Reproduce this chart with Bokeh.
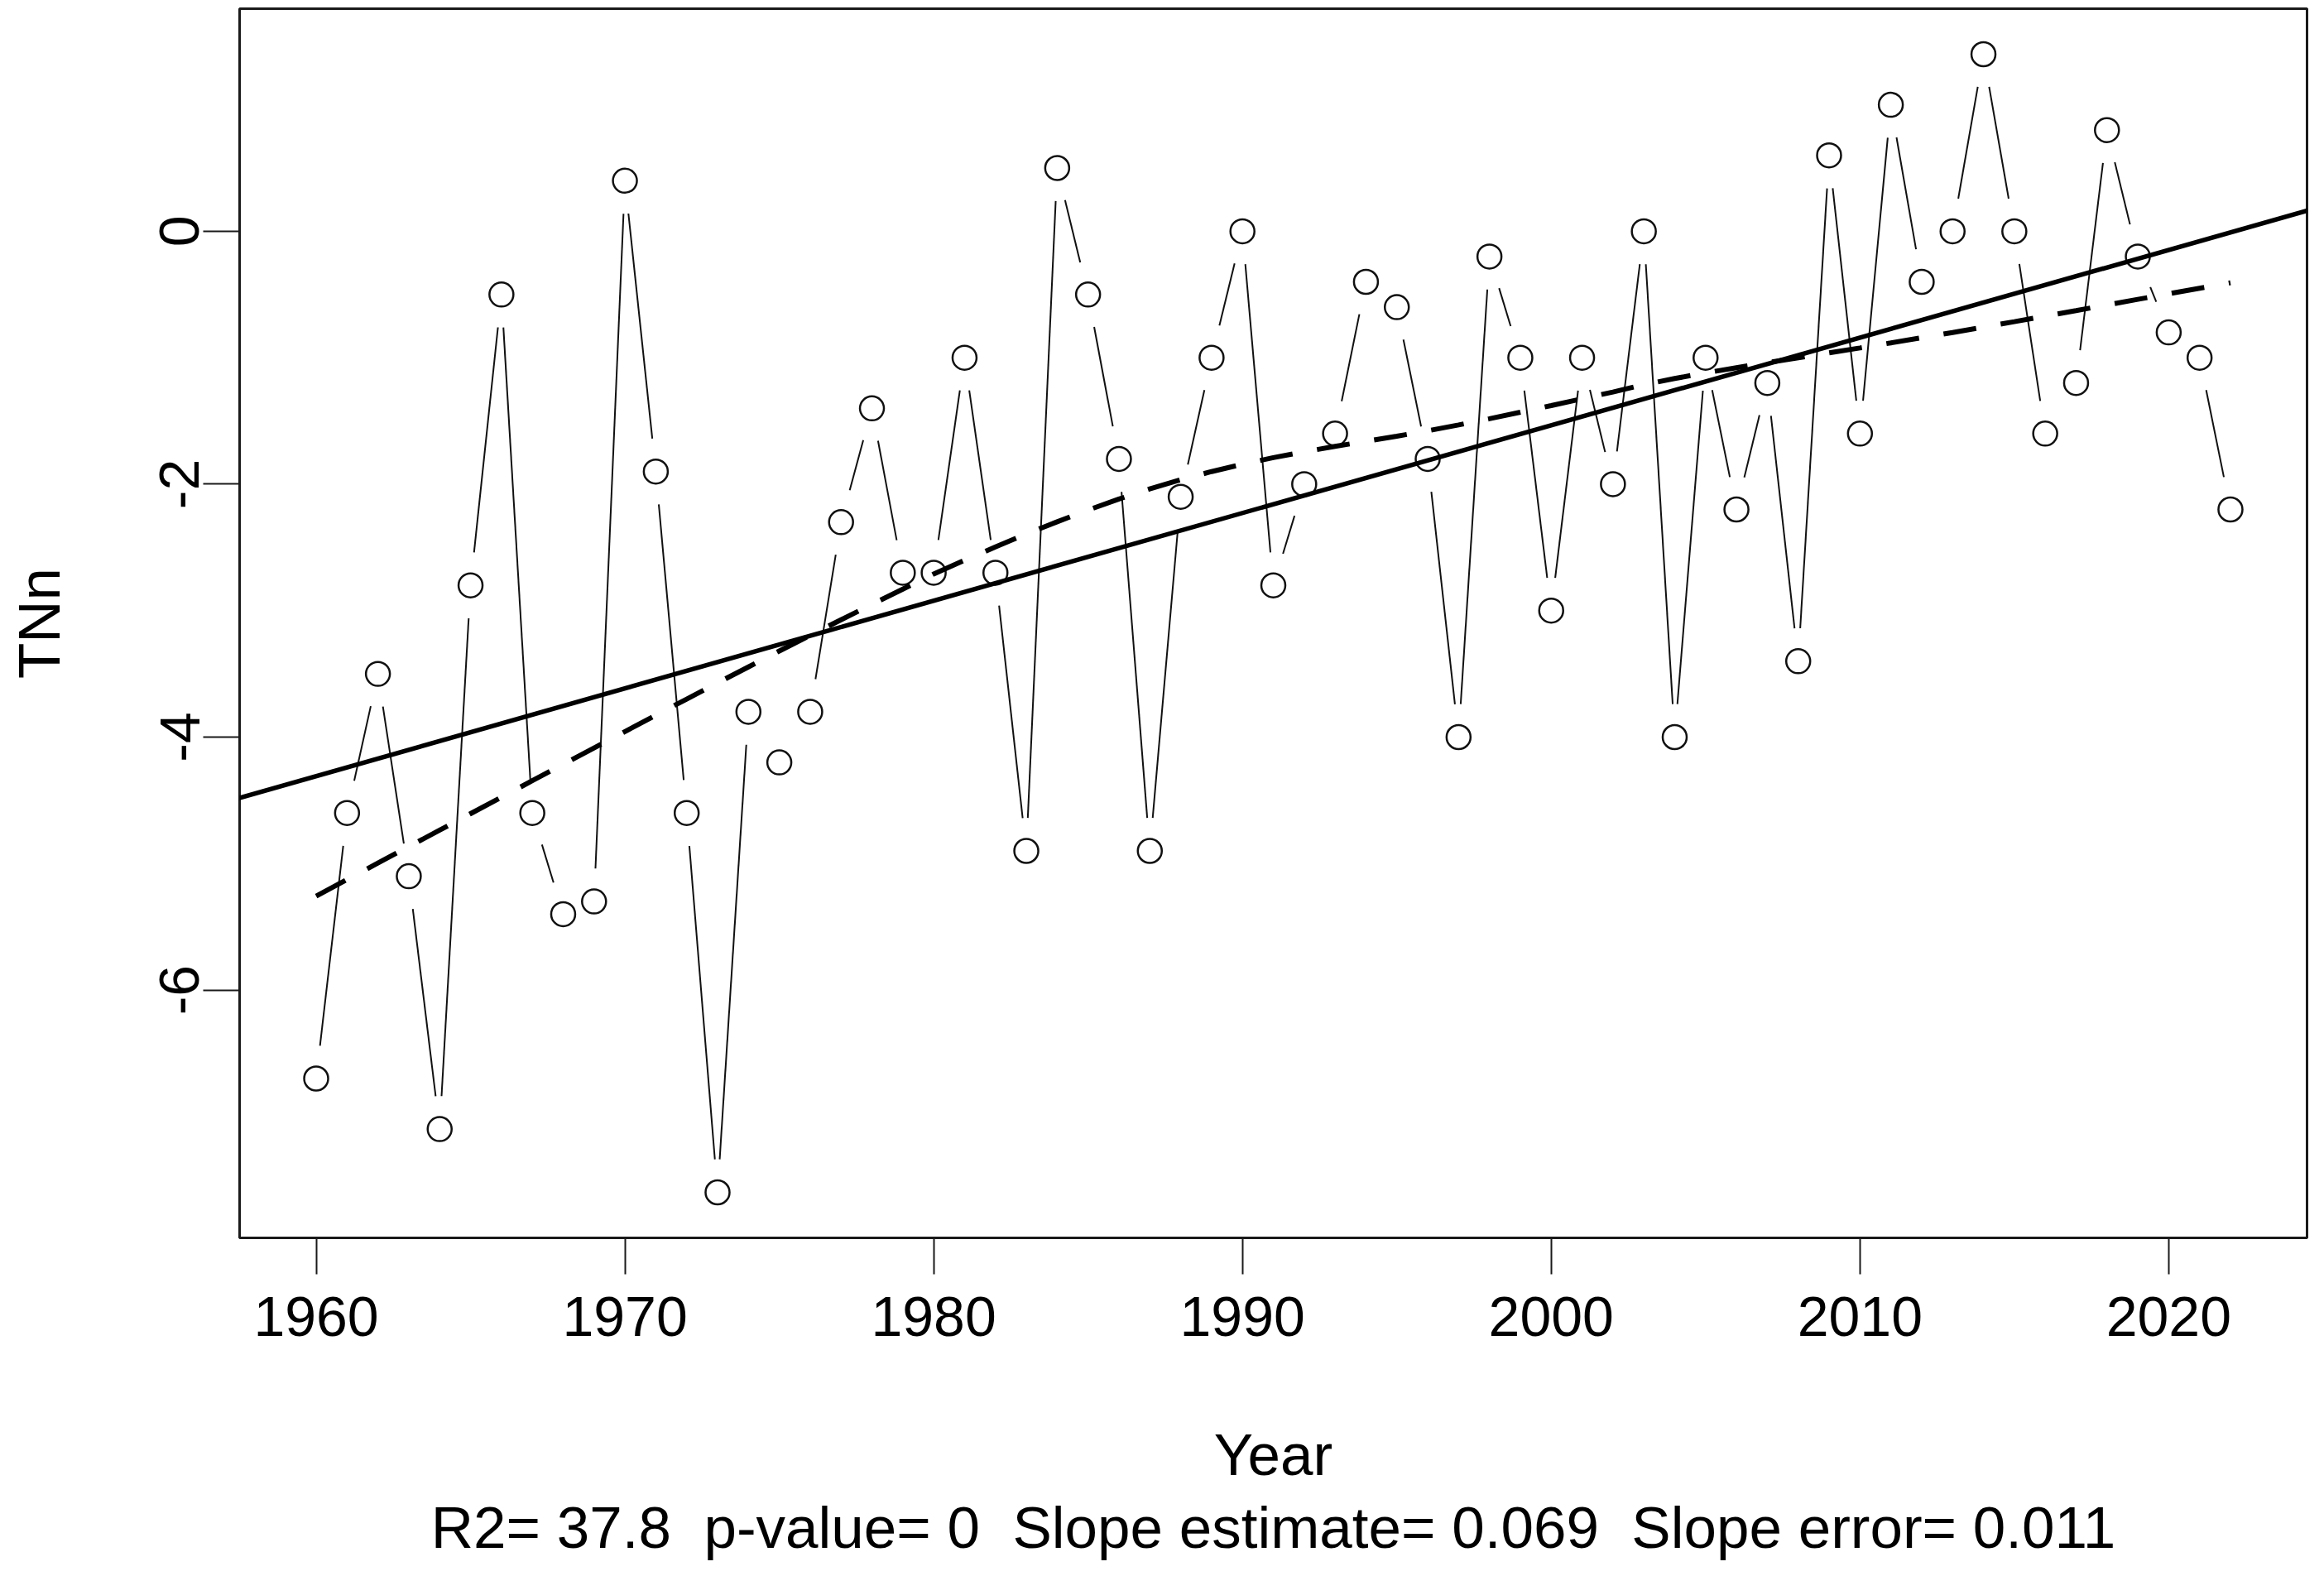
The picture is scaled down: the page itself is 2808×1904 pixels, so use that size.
import numpy as np
from bokeh.plotting import figure
from bokeh.models import Range1d, FixedTicker, Slope, Title
from bokeh.embed import file_html
from bokeh.resources import INLINE

# ---------------- data ----------------
years = list(range(1960, 2023))
tnn = [-6.7, -4.6, -3.5, -5.1, -7.1, -2.8, -0.5, -4.6, -5.4, -5.3,
       0.4, -1.9, -4.6, -7.6, -3.8, -4.2, -3.8, -2.3, -1.4, -2.7,
       -2.7, -1.0, -2.7, -4.9, 0.5, -0.5, -1.8, -4.9, -2.1, -1.0,
       0.0, -2.8, -2.0, -1.6, -0.4, -0.6, -1.8, -4.0, -0.2, -1.0,
       -3.0, -1.0, -2.0, 0.0, -4.0, -1.0, -2.2, -1.2, -3.4, 0.6,
       -1.6, 1.0, -0.4, 0.0, 1.4, 0.0, -1.6, -1.2, 0.8, -0.2,
       -0.8, -1.0, -2.2]
x_ticks = [1960, 1970, 1980, 1990, 2000, 2010, 2020]
y_ticks = [-6, -4, -2, 0]
x_label = "Year"
y_label = "TNn"
subtitle = "R2= 37.8  p-value= 0  Slope estimate= 0.069  Slope error= 0.011"


# ---------------- R's lowess (clowess) ----------------
def r_lowess(x, y, f=2 / 3, nsteps=3):
    x = np.asarray(x, float)
    y = np.asarray(y, float)
    n = len(x)
    ns = max(2, min(n, int(f * n + 1e-7)))
    ys = np.zeros(n)
    rw = np.ones(n)
    rng = x[-1] - x[0]
    for it in range(nsteps + 1):
        nleft, nright = 0, ns - 1
        for i in range(n):
            xs = x[i]
            while nright < n - 1:
                if xs - x[nleft] <= x[nright + 1] - xs:
                    break
                nleft += 1
                nright += 1
            h = max(xs - x[nleft], x[nright] - xs)
            h9, h1 = 0.999 * h, 0.001 * h
            w = np.zeros(n)
            a = 0.0
            j = nleft
            while j < n:
                r = abs(x[j] - xs)
                if r <= h9:
                    wj = 1.0 if r <= h1 else (1 - (r / h) ** 3) ** 3
                    if it > 0:
                        wj *= rw[j]
                    w[j] = wj
                    a += wj
                elif x[j] > xs:
                    break
                j += 1
            nrt = j - 1
            if a <= 0:
                ys[i] = y[i]
                continue
            sl = slice(nleft, nrt + 1)
            ww = w[sl] / a
            xx = x[sl]
            if h > 0:
                aa = np.sum(ww * xx)
                b = xs - aa
                c = np.sum(ww * (xx - aa) ** 2)
                if np.sqrt(c) > 0.001 * rng:
                    b /= c
                    ww = ww * (b * (xx - aa) + 1)
            ys[i] = np.sum(ww * y[sl])
        res = y - ys
        if it >= nsteps:
            break
        ar = np.abs(res)
        srt = np.sort(ar)
        m1 = n // 2
        if n % 2 == 0:
            cmad = 3 * (srt[m1] + srt[n - m1 - 1])
        else:
            cmad = 6 * srt[m1]
        if cmad < 1e-7 * np.mean(ar):
            break
        rw = np.where(ar <= 0.001 * cmad, 1.0,
                      np.where(ar <= 0.999 * cmad, (1 - (ar / cmad) ** 2) ** 2, 0.0))
    return ys


xv = np.array(years, float)
yv = np.array(tnn, float)

# R-style axis limits (4% expansion)
xr = (xv.min() - 0.04 * np.ptp(xv), xv.max() + 0.04 * np.ptp(xv))
yr = (yv.min() - 0.04 * np.ptp(yv), yv.max() + 0.04 * np.ptp(yv))

W, H = 2792, 1888
BL, BR, BT, BB = 289, 5, 10, 391
fw, fh = W - BL - BR, H - BT - BB

p = figure(width=W, height=H, output_backend="svg", toolbar_location=None,
           x_range=Range1d(*xr), y_range=Range1d(*yr),
           min_border_left=BL, min_border_right=BR, min_border_top=BT, min_border_bottom=BB)
p.background_fill_color = "white"
p.border_fill_color = "white"
p.outline_line_color = "#1a1a1a"
p.outline_line_width = 3
p.xgrid.visible = False
p.ygrid.visible = False

# ---- type="b" line: segments with gaps around points (in screen px) ----
sx = fw / (xr[1] - xr[0])
sy = fh / (yr[1] - yr[0])
gap = 40.0
x0s, y0s, x1s, y1s = [], [], [], []
for i in range(len(xv) - 1):
    dxp = (xv[i + 1] - xv[i]) * sx
    dyp = (yv[i + 1] - yv[i]) * sy
    L = np.hypot(dxp, dyp)
    fr = gap / L
    if fr < 0.5:
        x0s.append(xv[i] + fr * (xv[i + 1] - xv[i]))
        y0s.append(yv[i] + fr * (yv[i + 1] - yv[i]))
        x1s.append(xv[i + 1] + fr * (xv[i] - xv[i + 1]))
        y1s.append(yv[i + 1] + fr * (yv[i] - yv[i + 1]))
p.segment(x0=x0s, y0=y0s, x1=x1s, y1=y1s, line_color="#111111", line_width=2)
p.scatter(x=xv, y=yv, marker="circle", size=29, fill_color=None,
          line_color="#111111", line_width=2.5)

# ---- lowess (dashed) and linear trend (solid) ----
smooth = r_lowess(xv, yv)
p.line(xv, smooth, line_color="black", line_width=6, line_dash="40 30")

slope, intercept = np.polyfit(xv, yv, 1)
p.add_layout(Slope(gradient=slope, y_intercept=intercept, line_color="black", line_width=5.5))

# ---- axes ----
font = "Liberation Sans"
fs = "68px"
fs_lab = "71px"
for ax in (p.xaxis[0], p.yaxis[0]):
    ax.axis_line_color = None
    ax.major_tick_out = 44
    ax.major_tick_in = 0
    ax.minor_tick_line_color = None
    ax.major_tick_line_width = 2
    ax.major_tick_line_color = "#1a1a1a"
    ax.major_label_text_font = font
    ax.major_label_text_font_size = fs
    ax.major_label_text_color = "black"
    ax.axis_label_text_font = font
    ax.axis_label_text_font_size = fs_lab
    ax.axis_label_text_font_style = "normal"
    ax.axis_label_text_color = "black"

p.xaxis[0].ticker = FixedTicker(ticks=x_ticks)
p.yaxis[0].ticker = FixedTicker(ticks=y_ticks)
p.yaxis[0].major_label_overrides = {t: str(t) for t in y_ticks}
p.xaxis[0].major_label_standoff = 27
p.yaxis[0].major_label_standoff = 5
p.yaxis[0].major_label_orientation = "parallel"
p.xaxis[0].axis_label = x_label
p.yaxis[0].axis_label = y_label
p.xaxis[0].axis_label_standoff = 101
p.yaxis[0].axis_label_standoff = 104

# keep R's double spaces visible (SVG collapses runs of plain spaces)
sub_text = subtitle.replace("  ", " \u00a0")
p.add_layout(Title(text=sub_text, align="center", text_font=font, text_font_size=fs_lab,
                   text_font_style="normal", text_color="black", standoff=8), "below")

open("out.html", "w").write(file_html(p, INLINE))
